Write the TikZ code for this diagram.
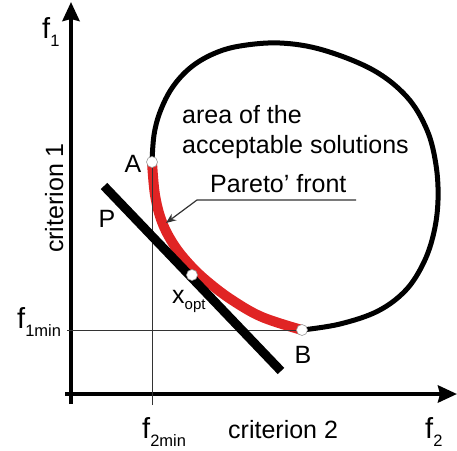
\documentclass[tikz,border=0pt]{standalone}
\usepackage{fontspec}
\setmainfont{Liberation Sans}
\usetikzlibrary{arrows.meta, positioning}
\definecolor{frontred}{RGB}{224,36,36}
\newcommand{\fcrit}[1]{{\fontsize{29}{29}\selectfont f}\raisebox{-8pt}{\fontsize{16.5}{16.5}\selectfont #1}}

\begin{document}
\begin{tikzpicture}[x=1pt, y=-1pt, every node/.style={inner sep=0pt, font=\fontsize{25}{30}\selectfont},
  axis/.style={line width=4pt, -{Stealth[length=19pt, width=17pt, inset=2pt]}},
  guide/.style={line width=1pt, black!80},
  leader/.style={line width=1.2pt, black!80, -{Stealth[length=10pt, width=8pt]}},
  boundary/.style={line width=5pt, black},
  front/.style={line width=10pt, frontred},
  tangent/.style={line width=9pt, black},
  solpoint/.style={circle, draw=black!40, fill=white, line width=0.6pt, minimum size=11pt}]
  \useasboundingbox (0,0) rectangle (457,450);
  % axes
  \coordinate (ytip) at (71,2); \coordinate (ybot) at (71,404);
  \coordinate (xtip) at (457,394); \coordinate (xleft) at (65,394);
  \draw[axis] (ybot) -- (ytip);
  \draw[axis] (xleft) -- (xtip);
  % area of the acceptable solutions
  \draw[boundary] plot[smooth, tension=0.6] coordinates {(152,162) (154,135) (160,112) (172,88) (190,68) (213,54) (240,46) (280,43) (323,50) (373,70) (407,97) (427,130) (436,165) (438,200) (434,232) (424,262) (406,290) (378,311) (340,324) (302,330)};
  % Pareto front
  \draw[front] plot[smooth, tension=0.6] coordinates {(152,162) (155,195) (162,222) (174,245) (190,265) (208,282) (232,300) (262,317) (302,330)};
  \node[solpoint] (A) at (152,162) {};
  \node[solpoint] (B) at (302,330) {};
  \coordinate (f1tick) at (67,330); \coordinate (f2tick) at (152,405);
  \draw[guide] (f1tick) -- (B);
  \draw[guide] (f2tick) -- (A);
  % line P
  \coordinate (P1) at (104,186); \coordinate (P2) at (281,371);
  \draw[tangent] (P1) -- (P2);
  \node[solpoint] (xopt) at (192,275) {};
  % labels
  \node (lA) at (133,164) {A};
  \node (lB) at (303,355) {B};
  \node (lP) at (107,219) {P};
  \node[anchor=base west] (lxopt) at (172,303) {x\raisebox{-6pt}{\fontsize{15}{15}\selectfont opt}};
  \node[anchor=base west] (area1) at (182,123) {area of the};
  \node[anchor=base west] (area2) at (182,153) {acceptable solutions};
  \node[anchor=base west] (pareto) at (210,192) {Pareto’ front};
  \coordinate (uline) at (356,200); \coordinate (ucorner) at (197,200); \coordinate (ftip) at (166,223);
  \draw[leader] (uline) -- (ucorner) -- (ftip);
  \node[rotate=90, anchor=base] (crit1) at (63,198) {criterion 1};
  \node[anchor=base west] (crit2) at (228,438) {criterion 2};
  \node[anchor=base west] (f1) at (42,38) {\fcrit{1}};
  \node[anchor=base west] (f1min) at (17,328) {\fcrit{1min}};
  \node[anchor=base west] (f2min) at (142,438) {\fcrit{2min}};
  \node[anchor=base west] (f2) at (425,438) {\fcrit{2}};
\end{tikzpicture}
\end{document}
